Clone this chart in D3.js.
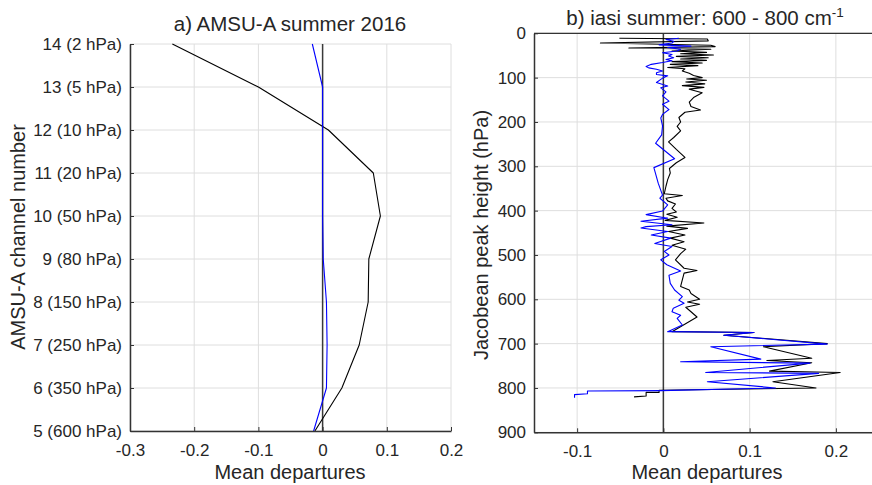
<!DOCTYPE html>
<html>
<head>
<meta charset="utf-8">
<script src="https://cdn.jsdelivr.net/npm/d3@7"></script>
<style>
  body { margin: 0; background: #fff; }
  text { font-family: "Liberation Sans", Arial, sans-serif; fill: #262626; }
</style>
</head>
<body>
<svg id="chart" width="872" height="485"></svg>
<script>
// ---- data ----
const amsuChannels = [14, 13, 12, 11, 10, 9, 8, 7, 6, 5];
const amsuLabels = ["14 (2 hPa)", "13 (5 hPa)", "12 (10 hPa)", "11 (20 hPa)", "10 (50 hPa)",
                    "9 (80 hPa)", "8 (150 hPa)", "7 (250 hPa)", "6 (350 hPa)", "5 (600 hPa)"];
const amsuBlack = [-0.234, -0.1, 0.009, 0.079, 0.09, 0.072, 0.071, 0.057, 0.030, -0.012];
const amsuBlue  = [-0.016, 0.0, 0.0, 0.0, 0.0, 0.001, 0.006, 0.007, 0.006, -0.014];
const amsuXTicks = [-0.3, -0.2, -0.1, 0, 0.1, 0.2];

const iasiBlackHPa = [11, 13, 17, 22, 27, 30, 33, 36, 40, 43, 46, 49, 52, 55, 58, 61, 64, 67, 70, 73,
  77, 80, 85, 90, 95, 100, 103, 106, 110, 114, 118, 122, 126, 134, 145, 155, 165, 173, 178, 190,
  200, 210, 220, 235, 245, 262, 280, 292, 305, 315, 330, 345, 362, 366, 372, 378, 385, 395, 403, 408,
  415, 422, 428, 435, 440, 447, 455, 462, 470, 478, 487, 497, 511, 530, 535, 541, 571, 579, 587, 600,
  606, 611, 618, 640, 673, 675, 681, 700, 707, 733, 738, 743, 762, 765, 786, 800, 805, 810, 810, 818, 820];
const iasiBlackDep = [-0.051, 0.051, 0.052, -0.073, 0.055, 0.06, -0.04, 0.055, 0.01, 0.05, 0.02, 0.058, 0.015, 0.052, 0.02, 0.05, 0.01, 0.045, 0.008, 0.04,
  0.005, 0.025, 0.022, 0.03, 0.035, 0.045, 0.027, 0.05, 0.026, 0.048, 0.022, 0.047, 0.03, 0.045, 0.035, 0.03, 0.032, 0.043, 0.025, 0.018,
  0.02, 0.016, 0.02, 0.012, 0.006, 0.015, 0.025, 0.015, 0.007, 0.008, 0.005, 0.003, 0.001, 0.022, 0.003, 0.005, 0.014, 0.01, 0.015, 0.004,
  0.016, 0.002, 0.047, 0.004, 0.028, 0.006, 0.025, 0.008, 0.024, 0.01, 0.026, 0.02, 0.014, 0.024, 0.039, 0.024, 0.02, 0.03, 0.032, 0.042,
  0.028, 0.042, 0.026, 0.039, 0.01, 0.105, 0.07, 0.19, 0.116, 0.172, 0.12, 0.172, 0.123, 0.205, 0.127, 0.177, -0.005, -0.005, -0.02, -0.02, -0.034];

const iasiBlueHPa = [11, 14, 18, 22, 26, 29, 32, 36, 40, 44, 48, 51, 55, 59, 62, 66, 70, 75, 78, 81,
  85, 89, 93, 96, 100, 104, 111, 119, 123, 132, 141, 153, 160, 172, 183, 191, 209, 229, 248, 283,
  303, 338, 365, 372, 387, 401, 409, 417, 424, 432, 436, 439, 447, 455, 462, 474, 481, 492, 500, 511,
  522, 536, 546, 564, 579, 594, 602, 609, 620, 628, 636, 643, 658, 673, 675, 681, 701, 707, 735, 741,
  744, 765, 767, 786, 800, 806, 807, 813, 815, 822];
const iasiBlueDep = [0.018, 0.003, 0.012, 0.01, -0.005, 0.032, 0.005, 0.02, 0.016, -0.001, 0.01, 0.006, 0.012, 0.003, 0.01, -0.001, -0.014, -0.02, -0.017, -0.008,
  -0.001, -0.008, -0.008, 0.005, 0.0, -0.003, -0.008, 0.005, -0.003, 0.003, -0.001, 0.0065, -0.001, 0.0065, -0.001, -0.003, -0.001, -0.002, -0.009, 0.013,
  -0.011, -0.006, -0.001, -0.004, 0.005, -0.001, -0.02, 0.005, -0.026, 0.01, -0.02, -0.026, 0.005, -0.014, 0.0085, -0.01, 0.01, 0.001, 0.0065, -0.003,
  0.004, 0.02, 0.0065, 0.008, 0.013, 0.022, 0.018, 0.024, 0.0115, 0.01, 0.02, 0.016, 0.022, 0.005, 0.105, 0.07, 0.19, 0.055, 0.113, 0.02,
  0.17, 0.049, 0.18, 0.051, 0.13, -0.003, -0.088, -0.088, -0.103, -0.103];

const iasiXTicks = [-0.1, 0, 0.1, 0.2];
const iasiYTicks = [0, 100, 200, 300, 400, 500, 600, 700, 800, 900];

// ---- drawing ----
const svg = d3.select("#chart");
const gridColor = "#dedede", axisColor = "#333";

function drawPanel(opt) {
  const x = opt.x, y = opt.y;
  const [x0, x1] = x.range(), [y0, y1] = y.range(); // y0 bottom, y1 top
  const g = svg.append("g");

  g.selectAll(".vgrid").data(opt.xTicks).enter().append("line")
    .attr("x1", d => x(d)).attr("x2", d => x(d))
    .attr("y1", y0).attr("y2", y1)
    .attr("stroke", gridColor).attr("stroke-width", 1);
  g.selectAll(".hgrid").data(opt.yTicks).enter().append("line")
    .attr("x1", x0).attr("x2", Math.min(x1, 872))
    .attr("y1", d => y(d)).attr("y2", d => y(d))
    .attr("stroke", gridColor).attr("stroke-width", 1);

  // zero line
  g.append("line")
    .attr("x1", x(0)).attr("x2", x(0)).attr("y1", y0).attr("y2", y1)
    .attr("stroke", "#3a3a3a").attr("stroke-width", 1.5);

  opt.series.forEach(s => {
    const line = d3.line().x(i => x(s.v[i])).y(i => y(s.p[i]));
    g.append("path")
      .attr("d", line(d3.range(s.v.length)))
      .attr("fill", "none").attr("stroke", s.color).attr("stroke-width", 1.1)
      .attr("stroke-linejoin", "round");
  });

  if (opt.box) {
    g.append("line").attr("x1", x0).attr("x2", x1).attr("y1", y1).attr("y2", y1)
      .attr("stroke", axisColor).attr("stroke-width", 1.3);
  }

  const xAxis = g.append("g").attr("transform", "translate(0," + y0 + ")")
    .call(d3.axisBottom(x).tickValues(opt.xTicks).tickFormat(d => String(d))
      .tickSize(-4).tickSizeOuter(0).tickPadding(13));
  const yAxis = g.append("g").attr("transform", "translate(" + x0 + ",0)")
    .call(d3.axisLeft(y).tickValues(opt.yTicks).tickFormat(opt.yFormat)
      .tickSize(-4).tickSizeOuter(0).tickPadding(8));

  [xAxis, yAxis].forEach(a => {
    a.select(".domain").attr("stroke", axisColor).attr("stroke-width", 1.5);
    a.selectAll(".tick line").attr("stroke", axisColor);
    a.selectAll("text").attr("fill", "#262626").style("font-size", "17px")
      .style("font-family", "'Liberation Sans', Arial, sans-serif");
  });
  return g;
}

// panel a
const xa = d3.scaleLinear().domain([-0.3, 0.2]).range([130, 451]);
const ya = d3.scaleLinear().domain([5, 14]).range([431, 44]);
drawPanel({
  x: xa, y: ya, xTicks: amsuXTicks, yTicks: amsuChannels,
  yFormat: d => amsuLabels[amsuChannels.indexOf(d)],
  series: [
    { p: amsuChannels, v: amsuBlack, color: "#000" },
    { p: amsuChannels, v: amsuBlue, color: "#0000ff" }
  ],
  box: false
});

// panel b (pressure increases downward)
const xb = d3.scaleLinear().domain([-0.15, 0.25]).range([534, 879]);
const yb = d3.scaleLinear().domain([900, 0]).range([432.3, 33.3]);
drawPanel({
  x: xb, y: yb, xTicks: iasiXTicks, yTicks: iasiYTicks,
  yFormat: d => String(d),
  series: [
    { p: iasiBlackHPa, v: iasiBlackDep, color: "#000" },
    { p: iasiBlueHPa, v: iasiBlueDep, color: "#0000ff" }
  ],
  box: true
});

// titles and labels
svg.append("text").attr("x", 290).attr("y", 31).attr("text-anchor", "middle")
  .style("font-size", "20.5px").text("a) AMSU-A summer 2016");

const tb = svg.append("text").attr("x", 705).attr("y", 25).attr("text-anchor", "middle")
  .style("font-size", "20.5px");
tb.append("tspan").text("b) iasi summer: 600 - 800 cm");
tb.append("tspan").attr("dy", -8).style("font-size", "13.5px").text("-1");

svg.append("text").attr("x", 290).attr("y", 479).attr("text-anchor", "middle")
  .style("font-size", "20px").text("Mean departures");
svg.append("text").attr("x", 707).attr("y", 479).attr("text-anchor", "middle")
  .style("font-size", "20px").text("Mean departures");

svg.append("text").attr("transform", "translate(25,237) rotate(-90)")
  .attr("text-anchor", "middle").style("font-size", "20px").text("AMSU-A channel number");
svg.append("text").attr("transform", "translate(488,235) rotate(-90)")
  .attr("text-anchor", "middle").style("font-size", "20px").text("Jacobean peak height (hPa)");
</script>
</body>
</html>
